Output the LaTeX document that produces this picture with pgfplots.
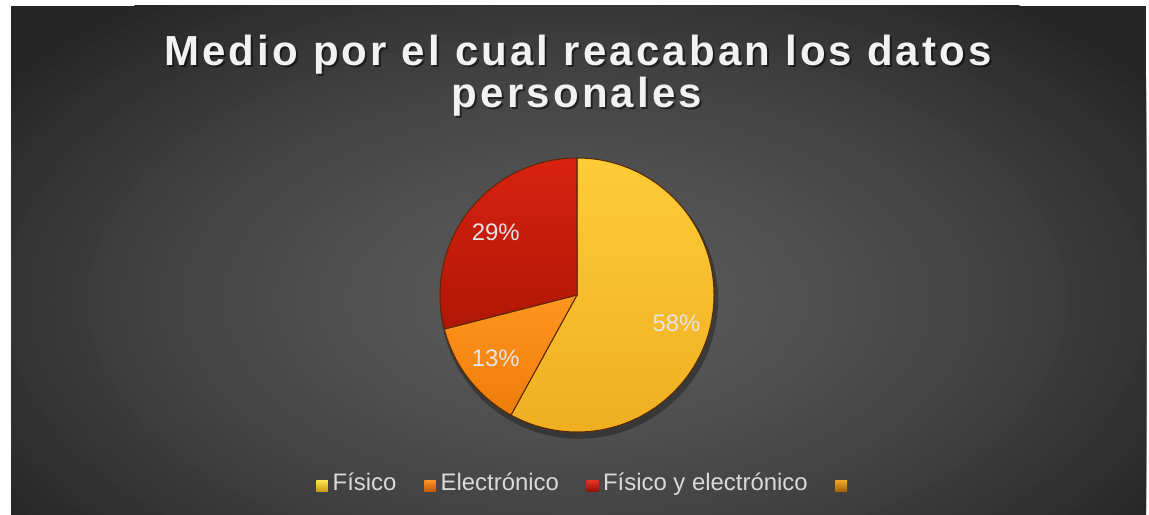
\documentclass[border=0pt]{standalone}
\usepackage{pgfplots}
\pgfplotsset{compat=1.18}
\usepackage{pgfplotstable}
\usepackage{fontspec}
\setmainfont{Liberation Sans}
\newfontfamily\titlefont[LetterSpace=7.6]{Liberation Sans}

\definecolor{bgA}{HTML}{5A5A5A}
\definecolor{bgC}{HTML}{262626}
\definecolor{titlec}{HTML}{F2F2F2}
\definecolor{labc}{HTML}{E4E4E4}
\definecolor{legtext}{HTML}{DADADA}
\definecolor{yTop}{HTML}{FDCC36}
\definecolor{yBot}{HTML}{F0AE22}
\definecolor{oTop}{HTML}{FF961E}
\definecolor{oBot}{HTML}{EE7C0A}
\definecolor{rTop}{HTML}{D82210}
\definecolor{rBot}{HTML}{B01606}
\definecolor{edgec}{HTML}{5A2800}
\definecolor{lyT}{HTML}{FFE450}
\definecolor{lyB}{HTML}{C89610}
\definecolor{loT}{HTML}{FF9624}
\definecolor{loB}{HTML}{BE5806}
\definecolor{lrT}{HTML}{F03224}
\definecolor{lrB}{HTML}{8C0E06}
\definecolor{lxT}{HTML}{F0AA24}
\definecolor{lxB}{HTML}{A06008}

\pgfplotstableread{
value
58
13
29
}\piedata

\begin{document}
\begin{tikzpicture}
\pgfplotstablegetelem{0}{value}\of\piedata \let\vA\pgfplotsretval
\pgfplotstablegetelem{1}{value}\of\piedata \let\vB\pgfplotsretval
\pgfplotstablegetelem{2}{value}\of\piedata \let\vC\pgfplotsretval
\pgfmathsetmacro\tot{\vA+\vB+\vC}
\pgfmathsetmacro\aA{90}
\pgfmathsetmacro\aB{\aA-360*(\vA/\tot)}
\pgfmathsetmacro\aC{\aB-360*(\vB/\tot)}
\pgfmathsetmacro\aD{\aC-360*(\vC/\tot)}
\pgfmathsetmacro\mA{(\aA+\aB)/2}
\pgfmathsetmacro\mB{(\aB+\aC)/2}
\pgfmathsetmacro\mC{(\aC+\aD)/2}

\begin{scope}[x=0.5pt,y=-0.5pt,yshift=257pt]
\path[use as bounding box, fill=white] (0,0) rectangle (1149,514);
\fill[bgC] (11,6) rectangle (1146,514);
\begin{scope}
\clip (11,6) rectangle (1146,514);
\foreach \k in {0,...,60}{
  \pgfmathsetmacro\tt{1-\k/60}
  \pgfmathsetmacro\pp{100*(1-\tt^1.5)}
  \pgfmathsetmacro\rx{700*\tt}
  \pgfmathsetmacro\ry{380*\tt}
  \fill[bgA!\pp!bgC] (577,300) ellipse [x radius=\rx, y radius=\ry];
}
\end{scope}
\node[anchor=base, text=black, opacity=0.5, font=\titlefont\bfseries\fontsize{21}{21}\selectfont, inner sep=0pt] at (580,68) {Medio por el cual reacaban los datos};
\node[anchor=base, text=titlec, font=\titlefont\bfseries\fontsize{21}{21}\selectfont, inner sep=0pt] at (578,66) {Medio por el cual reacaban los datos};
\node[anchor=base, text=black, opacity=0.5, font=\titlefont\bfseries\fontsize{21}{21}\selectfont, inner sep=0pt] at (579,110) {personales};
\node[anchor=base, text=titlec, font=\titlefont\bfseries\fontsize{21}{21}\selectfont, inner sep=0pt] at (577,108) {personales};
\end{scope}

\begin{axis}[
  at={(288.5pt,109.5pt)}, anchor=origin,
  hide axis, clip=false,
  x=68.5pt, y=68.5pt,
  xmin=-1.05, xmax=1.05, ymin=-1.05, ymax=1.05,
  legend columns=4,
  legend image code/.code={\shade[#1] (0pt,-4.4pt) rectangle (5.8pt,1.4pt);},
  legend style={at={(0.533,-0.1533)}, anchor=center, draw=none, fill=none,
    font=\fontsize{11.95}{14}\selectfont, text=legtext,
    nodes={inner xsep=2.4pt},
    /tikz/every even column/.append style={column sep=11.5pt}},
]
\addlegendimage{top color=lyT, bottom color=lyB, draw=none}
\addlegendentry{Físico}
\addlegendimage{top color=loT, bottom color=loB, draw=none}
\addlegendentry{Electrónico}
\addlegendimage{top color=lrT, bottom color=lrB, draw=none}
\addlegendentry{Físico y electrónico}
\addlegendimage{top color=lxT, bottom color=lxB, draw=none}
\addlegendentry{}

\fill[black, opacity=0.3] (axis cs:0.015,-0.035) circle[radius=69.5pt];
\shade[top color=yTop, bottom color=yBot, draw=edgec, line width=0.5pt, line join=round]
  (axis cs:0,0) -- (axis cs:{cos(\aA)},{sin(\aA)}) arc[start angle=\aA, end angle=\aB, radius=68.5pt] -- cycle;
\shade[top color=oTop, bottom color=oBot, draw=edgec, line width=0.5pt, line join=round]
  (axis cs:0,0) -- (axis cs:{cos(\aB)},{sin(\aB)}) arc[start angle=\aB, end angle=\aC, radius=68.5pt] -- cycle;
\shade[top color=rTop, bottom color=rBot, draw=edgec, line width=0.5pt, line join=round]
  (axis cs:0,0) -- (axis cs:{cos(\aC)},{sin(\aC)}) arc[start angle=\aC, end angle=\aD, radius=68.5pt] -- cycle;

\node[text=labc, font=\fontsize{11.95}{14}\selectfont] at (axis cs:{0.75*cos(\mA)},{0.75*sin(\mA)-0.02}) {\vA\%};
\node[text=labc, font=\fontsize{11.95}{14}\selectfont] at (axis cs:{0.75*cos(\mB)},{0.75*sin(\mB)}) {\vB\%};
\node[text=labc, font=\fontsize{11.95}{14}\selectfont] at (axis cs:{0.75*cos(\mC)},{0.75*sin(\mC)}) {\vC\%};
\end{axis}
\end{tikzpicture}
\end{document}
